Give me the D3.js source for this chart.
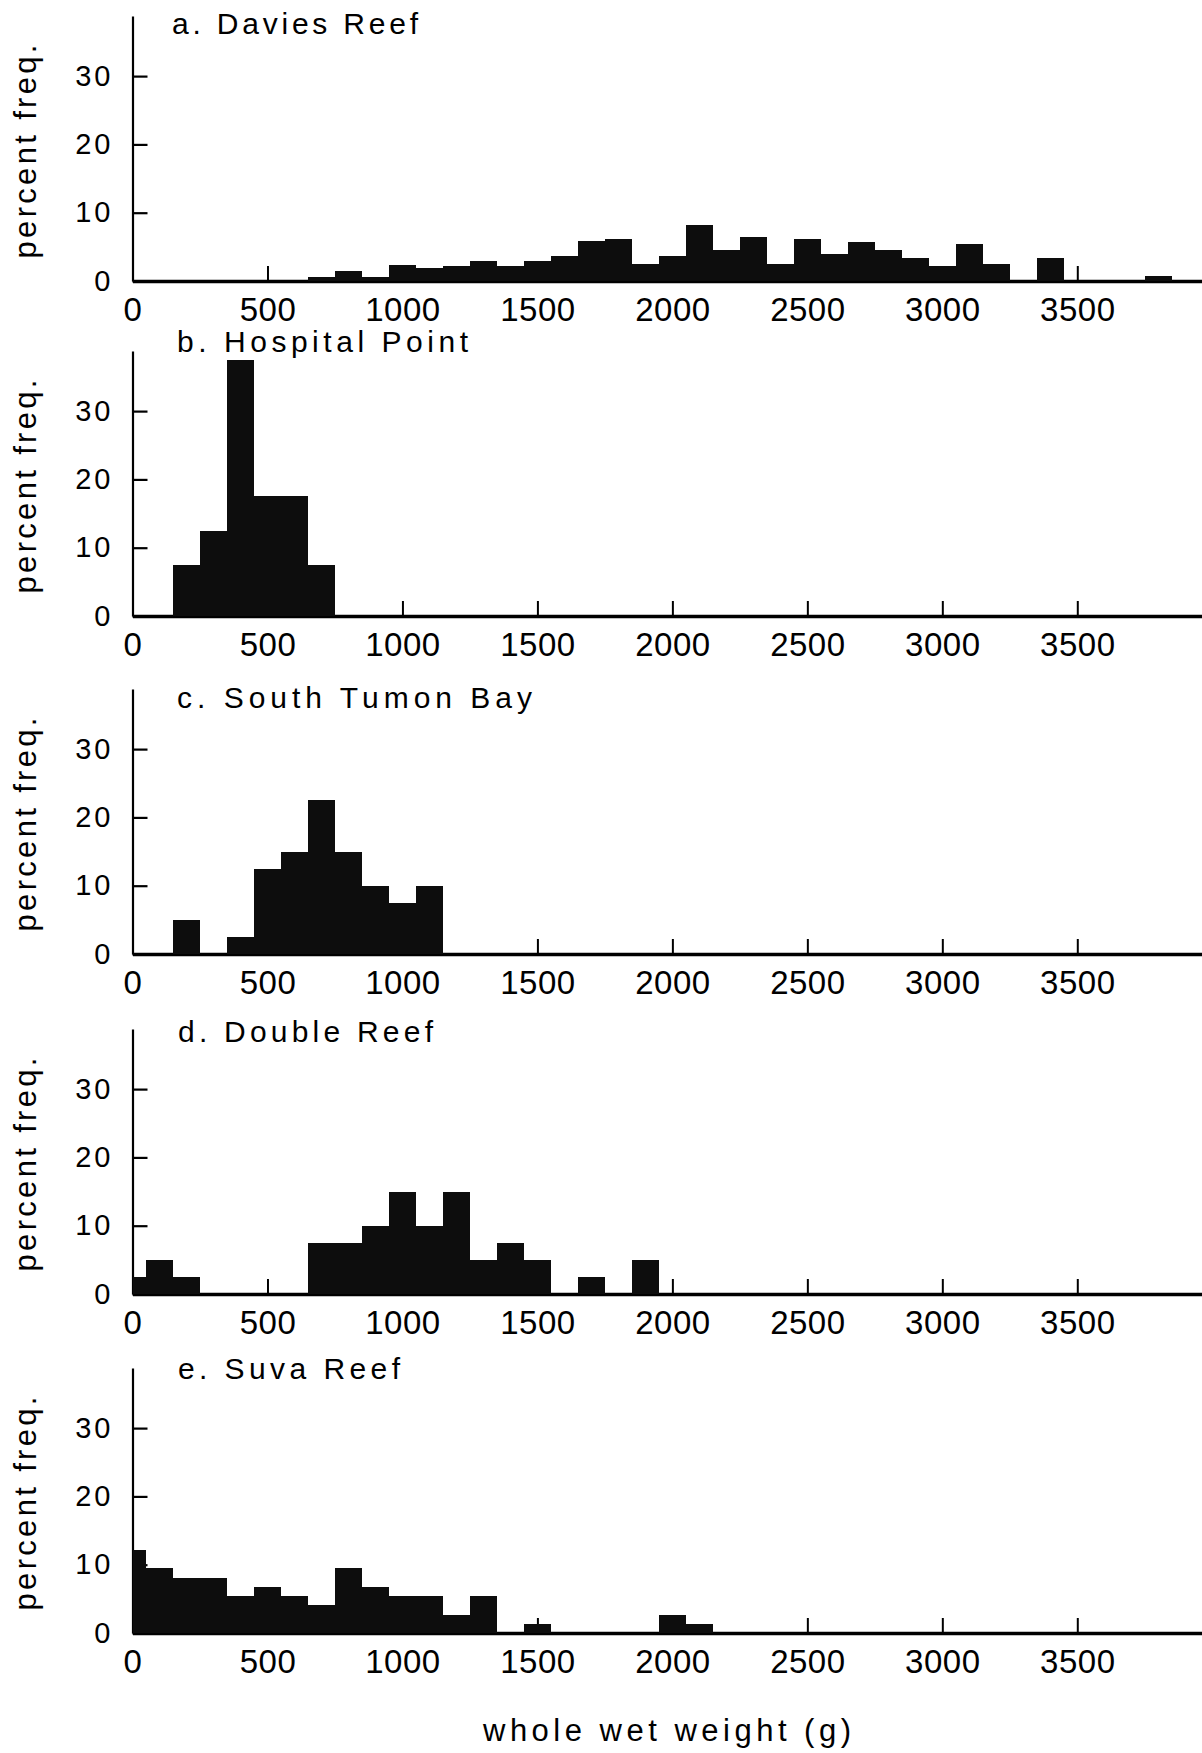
<!DOCTYPE html>
<html>
<head>
<meta charset="utf-8">
<script src="https://cdn.jsdelivr.net/npm/d3@7"></script>
<style>
  body { margin: 0; background: #fff; }
  svg { display: block; background: #fff; }
  text { font-family: "Liberation Sans", Arial, sans-serif; fill: #000; }
</style>
</head>
<body>
<svg id="chart" width="1202" height="1753"></svg>
<script>
// ---------------- DATA ----------------
// Percent frequency per 100 g weight class; bins centred on 0, 100, 200, ... g
const binCentreStep = 100;
const panelTitles = ["a. Davies Reef", "b. Hospital Point", "c. South Tumon Bay", "d. Double Reef", "e. Suva Reef"];

const daviesReef = [0, 0, 0, 0, 0, 0, 0, 0.6, 1.5, 0.6, 2.4, 1.9, 2.2, 3.0, 2.2, 2.9, 3.6, 5.8, 6.2, 2.5,
                    3.6, 8.2, 4.5, 6.5, 2.5, 6.2, 4.0, 5.7, 4.5, 3.3, 2.2, 5.4, 2.5, 0, 3.3, 0, 0, 0, 0.8, 0];
const hospitalPoint = [0, 0, 7.5, 12.5, 37.5, 17.5, 17.5, 7.5];
const southTumonBay = [0, 0, 5, 0, 2.5, 12.5, 15, 22.5, 15, 10, 7.5, 10];
const doubleReef = [2.5, 5, 2.5, 0, 0, 0, 0, 7.5, 7.5, 10, 15, 10, 15, 5, 7.5, 5, 0, 2.5, 0, 5];
const suvaReef = [12.16, 9.46, 8.11, 8.11, 5.41, 6.76, 5.41, 4.05, 9.46, 6.76, 5.41, 5.41, 2.70, 5.41, 0, 1.35,
                  0, 0, 0, 0, 2.70, 1.35];

const seriesValues = [daviesReef, hospitalPoint, southTumonBay, doubleReef, suvaReef];

const xTickValues = [0, 500, 1000, 1500, 2000, 2500, 3000, 3500];
const yTickValues = [0, 10, 20, 30];
const yAxisTitle = "percent freq.";
const xAxisTitle = "whole wet weight (g)";

// ---------------- LAYOUT ----------------
const panelLayout = [
  { zero: 281,  titleX: 172, titleY: 34,   titleLen: 246 },
  { zero: 616,  titleX: 177, titleY: 352,  titleLen: 291 },
  { zero: 954,  titleX: 177, titleY: 708,  titleLen: 355 },
  { zero: 1294, titleX: 178, titleY: 1042, titleLen: 255 },
  { zero: 1633, titleX: 178, titleY: 1379, titleLen: 222 }
];
const plotHeight = 265;
const yMax = 38.8;
const fontFam = '"Liberation Sans", Arial, sans-serif';

const svg = d3.select("#chart");

const x = d3.scaleLinear().domain([0, 4000]).range([132.5, 132.5 + 4000 * 0.26994]);

seriesValues.forEach((vals, pi) => {
  const L = panelLayout[pi];
  const y = d3.scaleLinear().domain([0, yMax]).range([L.zero, L.zero - plotHeight]);
  const g = svg.append("g");

  // y axis
  const yAxis = d3.axisLeft(y).tickValues(yTickValues).tickSizeInner(-15).tickSizeOuter(0).tickPadding(19).tickFormat(d3.format("d"));
  const ya = g.append("g").attr("transform", `translate(${x(0)},0)`).call(yAxis);
  ya.select(".domain").attr("stroke", "#000").attr("stroke-width", 2.2);
  ya.selectAll(".tick line").attr("stroke", "#000").attr("stroke-width", 2.2);
  ya.selectAll(".tick text").attr("font-size", 29).attr("letter-spacing", 3)
    .style("font-family", fontFam).attr("fill", "#000");

  // x axis
  const xAxis = d3.axisBottom(x).tickValues(xTickValues).tickSizeInner(-15).tickSizeOuter(0).tickPadding(17).tickFormat(d3.format("d"));
  const xa = g.append("g").attr("transform", `translate(0,${y(0)})`).call(xAxis);
  xa.select(".domain").attr("stroke", "#000").attr("stroke-width", 3.5);
  xa.selectAll(".tick line").attr("stroke", "#000").attr("stroke-width", 2);
  xa.selectAll(".tick text").attr("font-size", 33).attr("letter-spacing", 0.5)
    .style("font-family", fontFam).attr("fill", "#000");

  // bars
  const bins = vals.map((v, i) => ({ c: i * binCentreStep, v })).filter(d => d.v > 0);
  g.append("g").selectAll("rect").data(bins).join("rect")
    .attr("x", d => x(Math.max(0, d.c - binCentreStep / 2)))
    .attr("width", d => x(d.c + binCentreStep / 2) - x(Math.max(0, d.c - binCentreStep / 2)))
    .attr("y", d => y(d.v))
    .attr("height", d => y(0) - y(d.v))
    .attr("fill", "#0d0d0d")
    .attr("shape-rendering", "crispEdges");

  // panel title
  g.append("text")
    .attr("x", L.titleX).attr("y", L.titleY)
    .attr("font-size", 30)
    .attr("textLength", L.titleLen).attr("lengthAdjust", "spacing")
    .text(panelTitles[pi]);

  // y axis title
  const cy = (L.zero + (L.zero - plotHeight)) / 2 + 3;
  g.append("text")
    .attr("transform", `translate(36,${cy}) rotate(-90)`)
    .attr("text-anchor", "middle")
    .attr("font-size", 31)
    .attr("textLength", 214).attr("lengthAdjust", "spacing")
    .text(yAxisTitle);
});

// x axis title
svg.append("text")
  .attr("x", 483).attr("y", 1741)
  .attr("font-size", 31)
  .attr("textLength", 368).attr("lengthAdjust", "spacing")
  .text(xAxisTitle);
</script>
</body>
</html>
